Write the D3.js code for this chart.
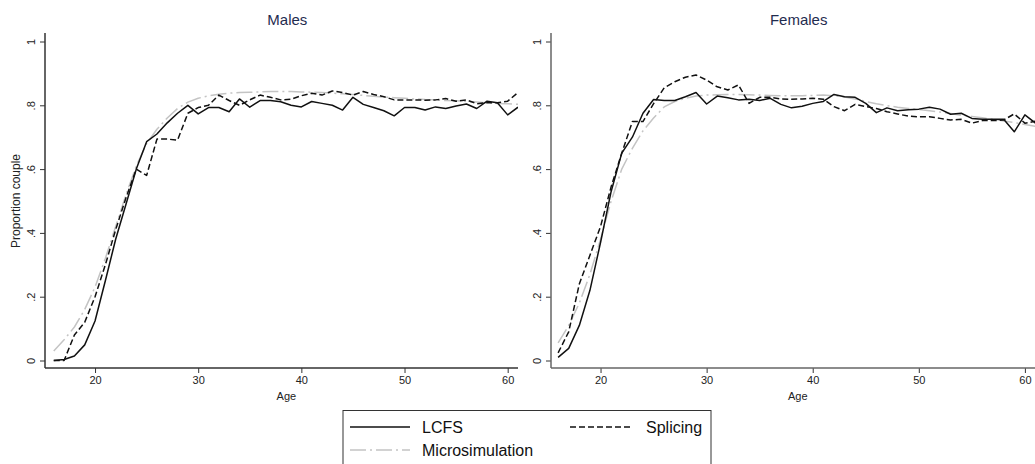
<!DOCTYPE html>
<html>
<head>
<meta charset="utf-8">
<script src="https://cdn.jsdelivr.net/npm/d3@7"></script>
<style>
  html, body { margin: 0; padding: 0; background: #fff; }
  svg { display: block; font-family: "Liberation Sans", Arial, sans-serif; }
</style>
</head>
<body>
<svg id="chart" width="1035" height="464"></svg>
<script>
// Ages observed in both panels
const ages = d3.range(16, 62);

// Males
const malesLCFS = [0, 0.003, 0.014, 0.049, 0.124, 0.25, 0.38, 0.49, 0.60, 0.686,
  0.71, 0.745, 0.775, 0.80, 0.773, 0.793, 0.793, 0.78, 0.82, 0.794,
  0.815, 0.815, 0.811, 0.80, 0.795, 0.812, 0.806, 0.80, 0.785, 0.825,
  0.803, 0.793, 0.783, 0.767, 0.793, 0.793, 0.785, 0.795, 0.79, 0.798,
  0.804, 0.79, 0.813, 0.808, 0.77, 0.794];
const malesSplicing = [0, 0, 0.08, 0.12, 0.2, 0.3, 0.41, 0.51, 0.60, 0.58,
  0.694, 0.694, 0.691, 0.775, 0.793, 0.80, 0.832, 0.815, 0.80, 0.817,
  0.832, 0.825, 0.817, 0.819, 0.83, 0.838, 0.832, 0.845, 0.84, 0.832,
  0.843, 0.834, 0.827, 0.817, 0.817, 0.817, 0.816, 0.817, 0.821, 0.813,
  0.817, 0.805, 0.808, 0.808, 0.813, 0.84];
const malesMicro = [0.03, 0.065, 0.105, 0.16, 0.23, 0.32, 0.42, 0.52, 0.61, 0.68,
  0.725, 0.76, 0.79, 0.81, 0.822, 0.83, 0.835, 0.838, 0.84, 0.841,
  0.842, 0.843, 0.843, 0.843, 0.842, 0.841, 0.84, 0.838, 0.836, 0.834,
  0.831, 0.828, 0.826, 0.824, 0.822, 0.82, 0.818, 0.817, 0.815, 0.814,
  0.812, 0.81, 0.808, 0.806, 0.805, 0.803];

// Females
const femalesLCFS = [0.01, 0.038, 0.11, 0.22, 0.37, 0.53, 0.65, 0.70, 0.775, 0.818,
  0.815, 0.815, 0.827, 0.84, 0.804, 0.829, 0.824, 0.817, 0.819, 0.815,
  0.822, 0.803, 0.792, 0.797, 0.806, 0.812, 0.834, 0.827, 0.825, 0.806,
  0.777, 0.792, 0.783, 0.786, 0.788, 0.794, 0.788, 0.772, 0.775, 0.759,
  0.756, 0.756, 0.756, 0.717, 0.77, 0.744];
const femalesSplicing = [0.024, 0.09, 0.24, 0.33, 0.42, 0.545, 0.65, 0.749, 0.749, 0.805,
  0.855, 0.874, 0.888, 0.895, 0.879, 0.858, 0.848, 0.864, 0.806, 0.825,
  0.825, 0.82, 0.819, 0.82, 0.822, 0.819, 0.796, 0.783, 0.803, 0.796,
  0.79, 0.78, 0.773, 0.766, 0.764, 0.764, 0.759, 0.754, 0.756, 0.744,
  0.752, 0.752, 0.754, 0.773, 0.744, 0.75];
const femalesMicro = [0.055, 0.11, 0.18, 0.27, 0.38, 0.5, 0.6, 0.665, 0.72, 0.76,
  0.795, 0.812, 0.822, 0.829, 0.832, 0.833, 0.834, 0.834, 0.833, 0.832,
  0.831, 0.83, 0.83, 0.83, 0.831, 0.832, 0.83, 0.826, 0.82, 0.812,
  0.805, 0.799, 0.794, 0.79, 0.787, 0.783, 0.779, 0.774, 0.769, 0.765,
  0.761, 0.756, 0.751, 0.746, 0.74, 0.734];

const xTicks = [20, 30, 40, 50, 60];
const yTicks = [0, 0.2, 0.4, 0.6, 0.8, 1];
const yTickLabels = ["0", ".2", ".4", ".6", ".8", "1"];

const seriesNames = ["LCFS", "Splicing", "Microsimulation"];
const seriesStyle = {
  "LCFS":            { color: "#111", dash: null,          width: 1.5 },
  "Splicing":        { color: "#111", dash: "6,3",         width: 1.5 },
  "Microsimulation": { color: "#c4c4c4", dash: "16,4,2,4", width: 1.5 }
};

const panels = [
  { title: "Males",   left: 45,  right: 518,    domain: [15.15, 61], axisColor: "#333",
    series: [malesLCFS, malesSplicing, malesMicro] },
  { title: "Females", left: 551, right: 1035.5, domain: [15.33, 61], axisColor: "#666",
    series: [femalesLCFS, femalesSplicing, femalesMicro] }
];

const svg = d3.select("#chart");
const plotTop = 33, axisY = 368;
const y = d3.scaleLinear().domain([0, 1]).range([360.5, 41.5]);
const titleColor = "#1f2c4f";

panels.forEach(p => {
  const x = d3.scaleLinear().domain(p.domain).range([p.left, p.right]);
  const g = svg.append("g");

  // clip the curves to the plot region
  const clipId = "clip-" + p.title;
  svg.append("clipPath").attr("id", clipId)
    .append("rect").attr("x", p.left).attr("y", plotTop)
    .attr("width", p.right - p.left).attr("height", axisY - plotTop);

  // y axis
  const yAxis = d3.axisLeft(y).tickValues(yTicks)
    .tickFormat((d, i) => yTickLabels[i]).tickSize(5).tickSizeOuter(0);
  const ya = g.append("g").attr("transform", `translate(${p.left},0)`).call(yAxis);
  ya.select(".domain").remove();
  ya.append("line").attr("x1", 0).attr("x2", 0).attr("y1", plotTop).attr("y2", axisY)
    .attr("stroke", p.axisColor).attr("stroke-width", 1.5);
  ya.selectAll(".tick line").attr("stroke", "#333");
  ya.selectAll(".tick text")
    .attr("fill", "#222").attr("font-size", 11)
    .attr("x", 0).attr("dy", null)
    .attr("text-anchor", "middle")
    .attr("transform", "translate(-10,0) rotate(-90)");

  // x axis
  const xAxis = d3.axisBottom(x).tickValues(xTicks).tickSize(5).tickSizeOuter(0);
  const xa = g.append("g").attr("transform", `translate(0,${axisY})`).call(xAxis);
  xa.select(".domain").remove();
  xa.append("line").attr("x1", p.left).attr("x2", p.right).attr("y1", 0).attr("y2", 0)
    .attr("stroke", p.axisColor).attr("stroke-width", 1.5);
  xa.selectAll(".tick line").attr("stroke", "#333");
  xa.selectAll(".tick text").attr("fill", "#222").attr("font-size", 11).attr("y", 8);

  // x axis title
  g.append("text").attr("x", (x(20) + x(60)) / 2 - 15).attr("y", 400)
    .attr("text-anchor", "middle").attr("font-size", 11).attr("fill", "#222")
    .text("Age");

  // panel title
  g.append("text").attr("x", (x(20) + x(60)) / 2 - 14).attr("y", 25)
    .attr("text-anchor", "middle").attr("font-size", 15).attr("fill", titleColor)
    .text(p.title);

  // curves
  const line = d3.line().x((d, i) => x(ages[i])).y(d => y(d));
  const curves = g.append("g").attr("clip-path", `url(#${clipId})`);
  // draw micro first so the black lines sit on top
  [2, 1, 0].forEach(k => {
    const st = seriesStyle[seriesNames[k]];
    curves.append("path").datum(p.series[k])
      .attr("d", line)
      .attr("fill", "none")
      .attr("stroke", st.color)
      .attr("stroke-width", st.width)
      .attr("stroke-dasharray", st.dash)
      .attr("stroke-linejoin", "round");
  });
});

// y axis title
svg.append("text")
  .attr("transform", `translate(20,${y(0.5)}) rotate(-90)`)
  .attr("text-anchor", "middle").attr("font-size", 12).attr("fill", "#222")
  .text("Proportion couple");

// legend
const legend = svg.append("g");
legend.append("rect").attr("x", 343).attr("y", 410.5).attr("width", 368).attr("height", 70)
  .attr("fill", "#fff").attr("stroke", "#333").attr("stroke-width", 1);
const legendPos = [
  { name: "LCFS", x: 350, y: 427 },
  { name: "Splicing", x: 570, y: 427 },
  { name: "Microsimulation", x: 350, y: 450 }
];
legendPos.forEach(e => {
  const st = seriesStyle[e.name];
  legend.append("line").attr("x1", e.x).attr("x2", e.x + 60).attr("y1", e.y).attr("y2", e.y)
    .attr("stroke", st.color).attr("stroke-width", st.width).attr("stroke-dasharray", st.dash);
  legend.append("text").attr("x", e.x + (e.name === "Splicing" ? 76 : 72)).attr("y", e.y + 5.5)
    .attr("font-size", 16).attr("fill", "#111").text(e.name);
});
</script>
</body>
</html>
